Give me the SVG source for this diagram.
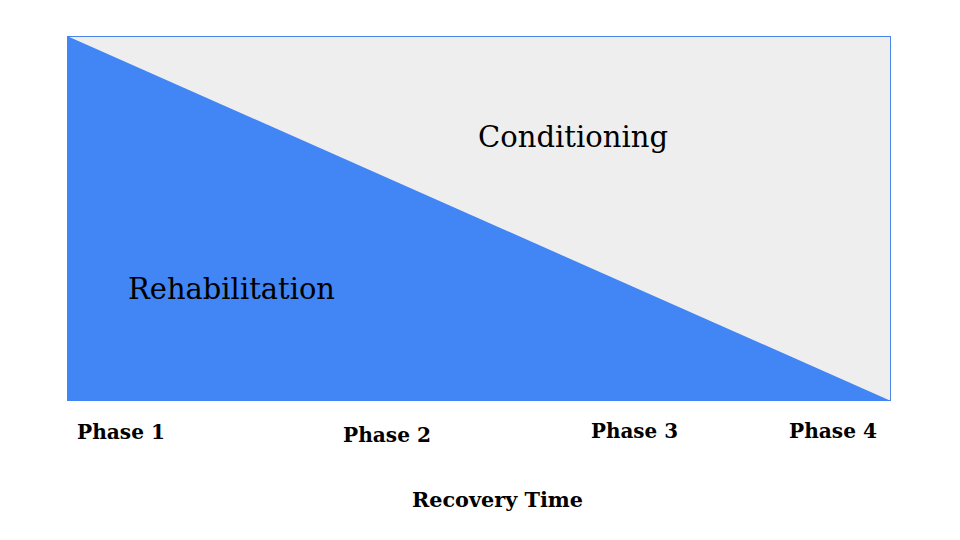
<svg xmlns="http://www.w3.org/2000/svg" width="960" height="540" viewBox="0 0 960 540">
<style>
.lbl{font-family:"DejaVu Serif","Liberation Serif",serif;font-size:30px;fill:#000}
.ph{font-family:"DejaVu Serif","Liberation Serif",serif;font-size:21px;font-weight:bold;fill:#000}
</style>
<rect width="960" height="540" fill="#ffffff"/>
<g id="chart">
<rect x="67.5" y="36.5" width="823" height="364" fill="#eeeeee" stroke="#4a86e8" stroke-width="1"/>
<polygon points="67,36 67,401 891,401" fill="#4285f4"/>
</g>
<g id="conditioning"><text class="lbl" x="478" y="147" textLength="190" lengthAdjust="spacingAndGlyphs">Conditioning</text></g>
<g id="rehabilitation"><text class="lbl" x="128" y="299" textLength="207" lengthAdjust="spacingAndGlyphs">Rehabilitation</text></g>
<g id="phases">
<text class="ph" x="77" y="439" textLength="88" lengthAdjust="spacingAndGlyphs">Phase 1</text>
<text class="ph" x="343" y="442" textLength="88" lengthAdjust="spacingAndGlyphs">Phase 2</text>
<text class="ph" x="591" y="438" textLength="87" lengthAdjust="spacingAndGlyphs">Phase 3</text>
<text class="ph" x="789" y="438" textLength="88" lengthAdjust="spacingAndGlyphs">Phase 4</text>
</g>
<g id="axis"><text class="ph" x="412" y="507" textLength="171" lengthAdjust="spacingAndGlyphs">Recovery Time</text></g>
<g id="connectors"></g>
</svg>
